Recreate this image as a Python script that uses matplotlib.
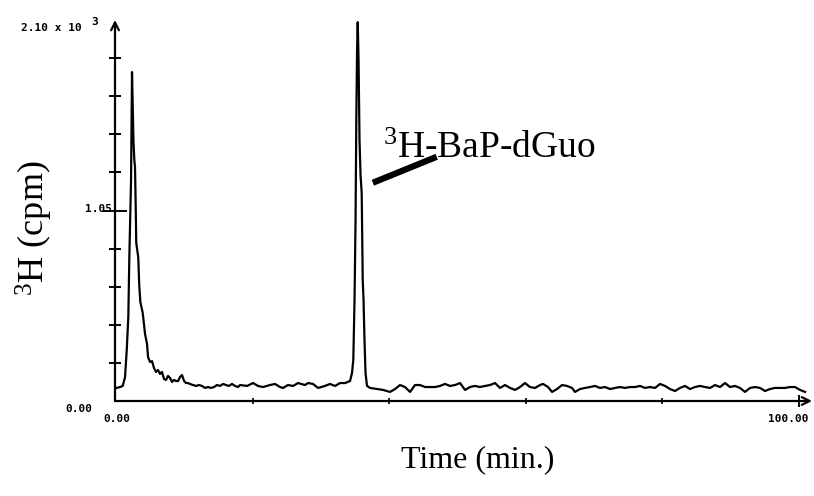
"""
HPLC radioactivity profile: 3H counts vs elution time.
"""

import numpy as np
import matplotlib.pyplot as plt

plt.rcParams['mathtext.fontset'] = 'custom'
plt.rcParams['mathtext.rm'] = 'Liberation Serif'
plt.rcParams['mathtext.it'] = 'Liberation Serif:italic'

# elution time (min) and counts (cpm)
time_min = [
    0.10, 0.59, 0.98, 1.32, 1.57, 1.80, 1.95, 2.08, 2.20, 2.28, 2.34, 2.43,
    2.55, 2.68, 2.78, 2.88, 2.96, 3.10, 3.25, 3.40, 3.56, 3.91, 4.10, 4.25,
    4.54, 4.69, 4.98, 5.27, 5.56, 5.86, 6.15, 6.44, 6.73, 7.03, 7.32, 7.61,
    7.91, 8.20, 8.49, 8.78, 9.08, 9.37, 9.66, 9.96, 10.25, 10.54, 10.83, 11.27,
    11.71, 12.15, 12.59, 13.03, 13.47, 13.91, 14.35, 14.79, 15.23, 15.67, 16.11, 16.54,
    16.98, 17.42, 17.86, 18.16, 19.18, 20.06, 20.79, 21.52, 22.55, 23.28, 24.01, 24.45,
    25.18, 25.92, 26.65, 27.67, 28.11, 28.84, 29.58, 30.60, 31.33, 32.06, 32.80, 33.53,
    34.26, 34.55, 34.74, 34.92, 35.07, 35.18, 35.29, 35.39, 35.51, 35.65, 35.80, 35.97,
    36.12, 36.24, 36.38, 36.53, 36.75, 37.19, 38.21, 39.09, 40.12, 40.85, 41.58, 42.31,
    43.05, 43.78, 44.51, 45.24, 45.97, 46.71, 47.44, 48.17, 48.90, 49.63, 50.37, 51.10,
    51.83, 52.56, 53.29, 54.03, 54.76, 55.49, 56.22, 56.95, 57.69, 58.42, 59.15, 59.88,
    60.61, 61.35, 62.08, 62.52, 63.25, 63.84, 64.57, 65.30, 66.03, 66.76, 67.20, 67.94,
    68.67, 69.40, 70.13, 70.86, 71.60, 72.33, 73.06, 73.79, 74.52, 75.26, 75.99, 76.72,
    77.45, 78.18, 78.92, 79.65, 80.38, 81.11, 81.84, 82.58, 83.31, 84.04, 84.77, 85.51,
    86.24, 86.97, 87.70, 88.43, 89.17, 89.90, 90.63, 91.36, 92.09, 92.83, 93.56, 94.29,
    95.02, 95.75, 96.49, 97.22, 97.95, 98.68, 99.41, 100.15, 100.88,
]
cpm = [
    72, 77, 83, 132, 281, 463, 794, 1025, 1218, 1548, 1813, 1659,
    1438, 1328, 1289, 1080, 871, 832, 794, 639, 545, 485, 419, 369,
    314, 242, 215, 220, 182, 160, 171, 149, 160, 121, 116, 138,
    127, 105, 116, 110, 110, 132, 143, 110, 99, 99, 94, 88,
    83, 88, 83, 72, 77, 72, 77, 88, 83, 94, 88, 83,
    94, 83, 77, 88, 83, 99, 83, 77, 88, 94, 77, 72,
    88, 83, 99, 88, 99, 94, 72, 83, 94, 83, 99, 99,
    110, 154, 226, 557, 997, 1548, 1934, 2088, 1879, 1438, 1245, 1146,
    667, 557, 336, 154, 83, 72, 66, 61, 50, 66, 88, 77,
    50, 88, 88, 77, 77, 77, 83, 94, 83, 88, 99, 61,
    77, 83, 77, 83, 88, 99, 72, 88, 72, 61, 77, 99,
    77, 72, 88, 94, 77, 50, 66, 88, 83, 72, 50, 66,
    72, 77, 83, 72, 77, 66, 72, 77, 72, 77, 77, 83,
    72, 77, 72, 94, 83, 66, 55, 72, 83, 66, 77, 83,
    77, 72, 88, 77, 99, 77, 83, 72, 50, 72, 77, 72,
    55, 66, 72, 72, 72, 77, 77, 61, 50,
]

y_major = [1050]
y_minor = [210, 420, 630, 840, 1260, 1470, 1680, 1890]
x_major = [100]
x_minor = [20, 40, 60, 80]

peak_name = r'$^{3}$H-BaP-dGuo'
leader = ([37.6, 46.95], [1203, 1346])   # from the peak out to the label

fig = plt.figure(figsize=(8.14, 4.96), dpi=100)
ax = fig.add_axes([115 / 814, 95 / 496, 697 / 814, 381 / 496])

ax.plot(time_min, cpm, color='black', lw=1.6, solid_joinstyle='round')
ax.set_xlim(-0.15, 101.9)
ax.set_ylim(0, 2100)

for s in ax.spines.values():
    s.set_visible(False)

# axes drawn as arrows
arrow = dict(arrowstyle='->', lw=1.6, color='black', mutation_scale=14,
             shrinkA=0, shrinkB=0)
ax.annotate('', xy=(0, 1), xytext=(0, 0), xycoords='axes fraction', arrowprops=arrow)
ax.annotate('', xy=(1, 0), xytext=(0, 0), xycoords='axes fraction', arrowprops=arrow)

ax.set_yticks(y_major)
ax.set_yticks(y_minor, minor=True)
ax.set_xticks(x_major)
ax.set_xticks(x_minor, minor=True)
ax.tick_params(axis='y', which='major', direction='inout', length=17, width=1.4)
ax.tick_params(axis='y', which='minor', direction='inout', length=9, width=1.4)
ax.tick_params(axis='x', which='major', direction='inout', length=9, width=1.4)
ax.tick_params(axis='x', which='minor', direction='inout', length=5, width=1.2)
ax.tick_params(labelleft=False, labelbottom=False)

# plotter-style tick labels
mono = dict(family='DejaVu Sans Mono', fontsize=8, fontweight='bold')
yt = ax.get_yaxis_transform()
ax.annotate('1.05', xy=(0, 1050), xycoords=yt, xytext=(-3, 1),
            textcoords='offset pixels', ha='right', va='center', **mono)
ax.annotate('0.00', xy=(0, 0), xycoords=yt, xytext=(-23, -8),
            textcoords='offset pixels', ha='right', va='center', **mono)
ax.annotate('2.10 x 10', xy=(0, 2100), xycoords=yt, xytext=(-33, -8),
            textcoords='offset pixels', ha='right', va='center', **mono)
ax.annotate('3', xy=(0, 2100), xycoords=yt, xytext=(-24, -2),
            textcoords='offset pixels', ha='left', va='center', **mono)
ax.annotate('0.00', xy=(0, 0), xytext=(1, -18), textcoords='offset pixels',
            ha='center', va='center', **mono)
ax.annotate('100.00', xy=(100, 0), xytext=(-11, -18), textcoords='offset pixels',
            ha='center', va='center', **mono)

# peak label with leader line
ax.plot(leader[0], leader[1], color='black', lw=4.5, solid_capstyle='butt')
ax.text(39.1, 1339, peak_name, family='Liberation Serif', fontsize=27,
        ha='left', va='baseline')

serif = dict(family='Liberation Serif', fontsize=23)
fig.text(478 / 814, 1 - 460 / 496, 'Time (min.)', ha='center', va='center', **serif)
fig.text(34 / 814, 1 - 228 / 496, r'$^{3}$H (cpm)', rotation=90,
         ha='center', va='center', family='Liberation Serif', fontsize=26)

fig.savefig('out.png', dpi=100)
